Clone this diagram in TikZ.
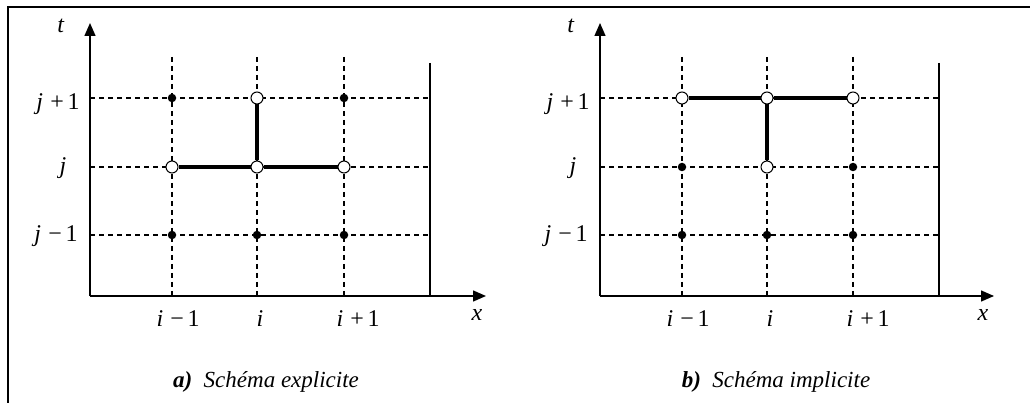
\documentclass[tikz,border=0pt]{standalone}
\usepackage{fontspec}
\setmainfont{Liberation Serif}
\usetikzlibrary{arrows.meta}
\newcommand{\pl}{\hspace{0.3em}+\hspace{0.15em}}
\newcommand{\mi}{\hspace{0.3em}−\hspace{0.15em}}
\begin{document}
\begin{tikzpicture}[x=1pt,y=-1pt,
  axis/.style={line width=1.4pt,-{Triangle[length=13pt,width=11pt]}},
  grid/.style={line width=1.2pt,dash pattern=on 5pt off 4pt},
  wall/.style={line width=1.5pt},
  link/.style={line width=4pt},
  opendot/.style={circle,draw,line width=1pt,fill=white,minimum size=12pt,inner sep=0pt},
  fulldot/.style={circle,fill=black,minimum size=8.5pt,inner sep=0pt},
  lab/.style={font=\fontsize{24}{28}\selectfont,inner sep=0pt,anchor=base},
  captext/.style={font=\fontsize{23}{27}\selectfont\itshape,inner sep=0pt}]
\useasboundingbox (0,0) rectangle (1030,403);
\draw[line width=2pt] (8,403) -- (8,7) -- (1030,7);
% ---------- panel a ----------
\begin{scope}
  \coordinate (aO) at (90,296);
  \coordinate (aT) at (90,23);
  \coordinate (aX) at (486,296);
  \coordinate (aW1) at (430,63);
  \coordinate (aW2) at (430,296);
  \foreach \n/\x in {1/172,2/257,3/344}{
    \coordinate (aV\n t) at (\x,57);
    \coordinate (aV\n b) at (\x,296);
    \draw[grid] (aV\n t) -- (aV\n b);
  }
  \foreach \n/\y in {1/98,2/167,3/235}{
    \coordinate (aH\n l) at (90,\y);
    \coordinate (aH\n r) at (430,\y);
    \draw[grid] (aH\n l) -- (aH\n r);
  }
  \draw[axis] (aO) -- (aT);
  \draw[axis] (aO) -- (aX);
  \draw[wall] (aW1) -- (aW2);
  % points
  \node[fulldot] (a11) at (172,98) {};
  \node[opendot] (a21) at (257,98) {};
  \node[fulldot] (a31) at (344,98) {};
  \node[opendot] (a12) at (172,167) {};
  \node[opendot] (a22) at (257,167) {};
  \node[opendot] (a32) at (344,167) {};
  \node[fulldot] (a13) at (172,235) {};
  \node[fulldot] (a23) at (257,235) {};
  \node[fulldot] (a33) at (344,235) {};
  \draw[link] (a12) -- (a22);
  \draw[link] (a22) -- (a32);
  \draw[link] (a22) -- (a21);
  % labels
  \node[lab] (at) at (61,33) {\textit{t}};
  \node[lab] (ax) at (477,320) {\textit{x}};
  \node[lab] (ajp) at (58,110) {\textit{j}\pl 1};
  \node[lab] (aj) at (63,174) {\textit{j}};
  \node[lab] (ajm) at (56,242) {\textit{j}\mi 1};
  \node[lab] (aim) at (178,326) {\textit{i}\mi 1};
  \node[lab] (ai) at (260,326) {\textit{i}};
  \node[lab] (aip) at (358,326) {\textit{i}\pl 1};
  \node[captext] (acap) at (266,382) {\textbf{a)}\ \ Schéma explicite};
\end{scope}
% ---------- panel b ----------
\begin{scope}[xshift=510pt]
  \coordinate (bO) at (90,296);
  \coordinate (bT) at (90,23);
  \coordinate (bX) at (484,296);
  \coordinate (bW1) at (429,63);
  \coordinate (bW2) at (429,296);
  \foreach \n/\x in {1/172,2/257,3/343}{
    \coordinate (bV\n t) at (\x,57);
    \coordinate (bV\n b) at (\x,296);
    \draw[grid] (bV\n t) -- (bV\n b);
  }
  \foreach \n/\y in {1/98,2/167,3/235}{
    \coordinate (bH\n l) at (90,\y);
    \coordinate (bH\n r) at (429,\y);
    \draw[grid] (bH\n l) -- (bH\n r);
  }
  \draw[axis] (bO) -- (bT);
  \draw[axis] (bO) -- (bX);
  \draw[wall] (bW1) -- (bW2);
  \node[opendot] (b11) at (172,98) {};
  \node[opendot] (b21) at (257,98) {};
  \node[opendot] (b31) at (343,98) {};
  \node[fulldot] (b12) at (172,167) {};
  \node[opendot] (b22) at (257,167) {};
  \node[fulldot] (b32) at (343,167) {};
  \node[fulldot] (b13) at (172,235) {};
  \node[fulldot] (b23) at (257,235) {};
  \node[fulldot] (b33) at (343,235) {};
  \draw[link] (b11) -- (b21);
  \draw[link] (b21) -- (b31);
  \draw[link] (b21) -- (b22);
  \node[lab] (bt) at (61,33) {\textit{t}};
  \node[lab] (bx) at (473,320) {\textit{x}};
  \node[lab] (bjp) at (58,110) {\textit{j}\pl 1};
  \node[lab] (bj) at (63,174) {\textit{j}};
  \node[lab] (bjm) at (56,242) {\textit{j}\mi 1};
  \node[lab] (bim) at (178,326) {\textit{i}\mi 1};
  \node[lab] (bi) at (260,326) {\textit{i}};
  \node[lab] (bip) at (358,326) {\textit{i}\pl 1};
  \node[captext] (bcap) at (266,382) {\textbf{b)}\ \ Schéma implicite};
\end{scope}
\end{tikzpicture}
\end{document}
